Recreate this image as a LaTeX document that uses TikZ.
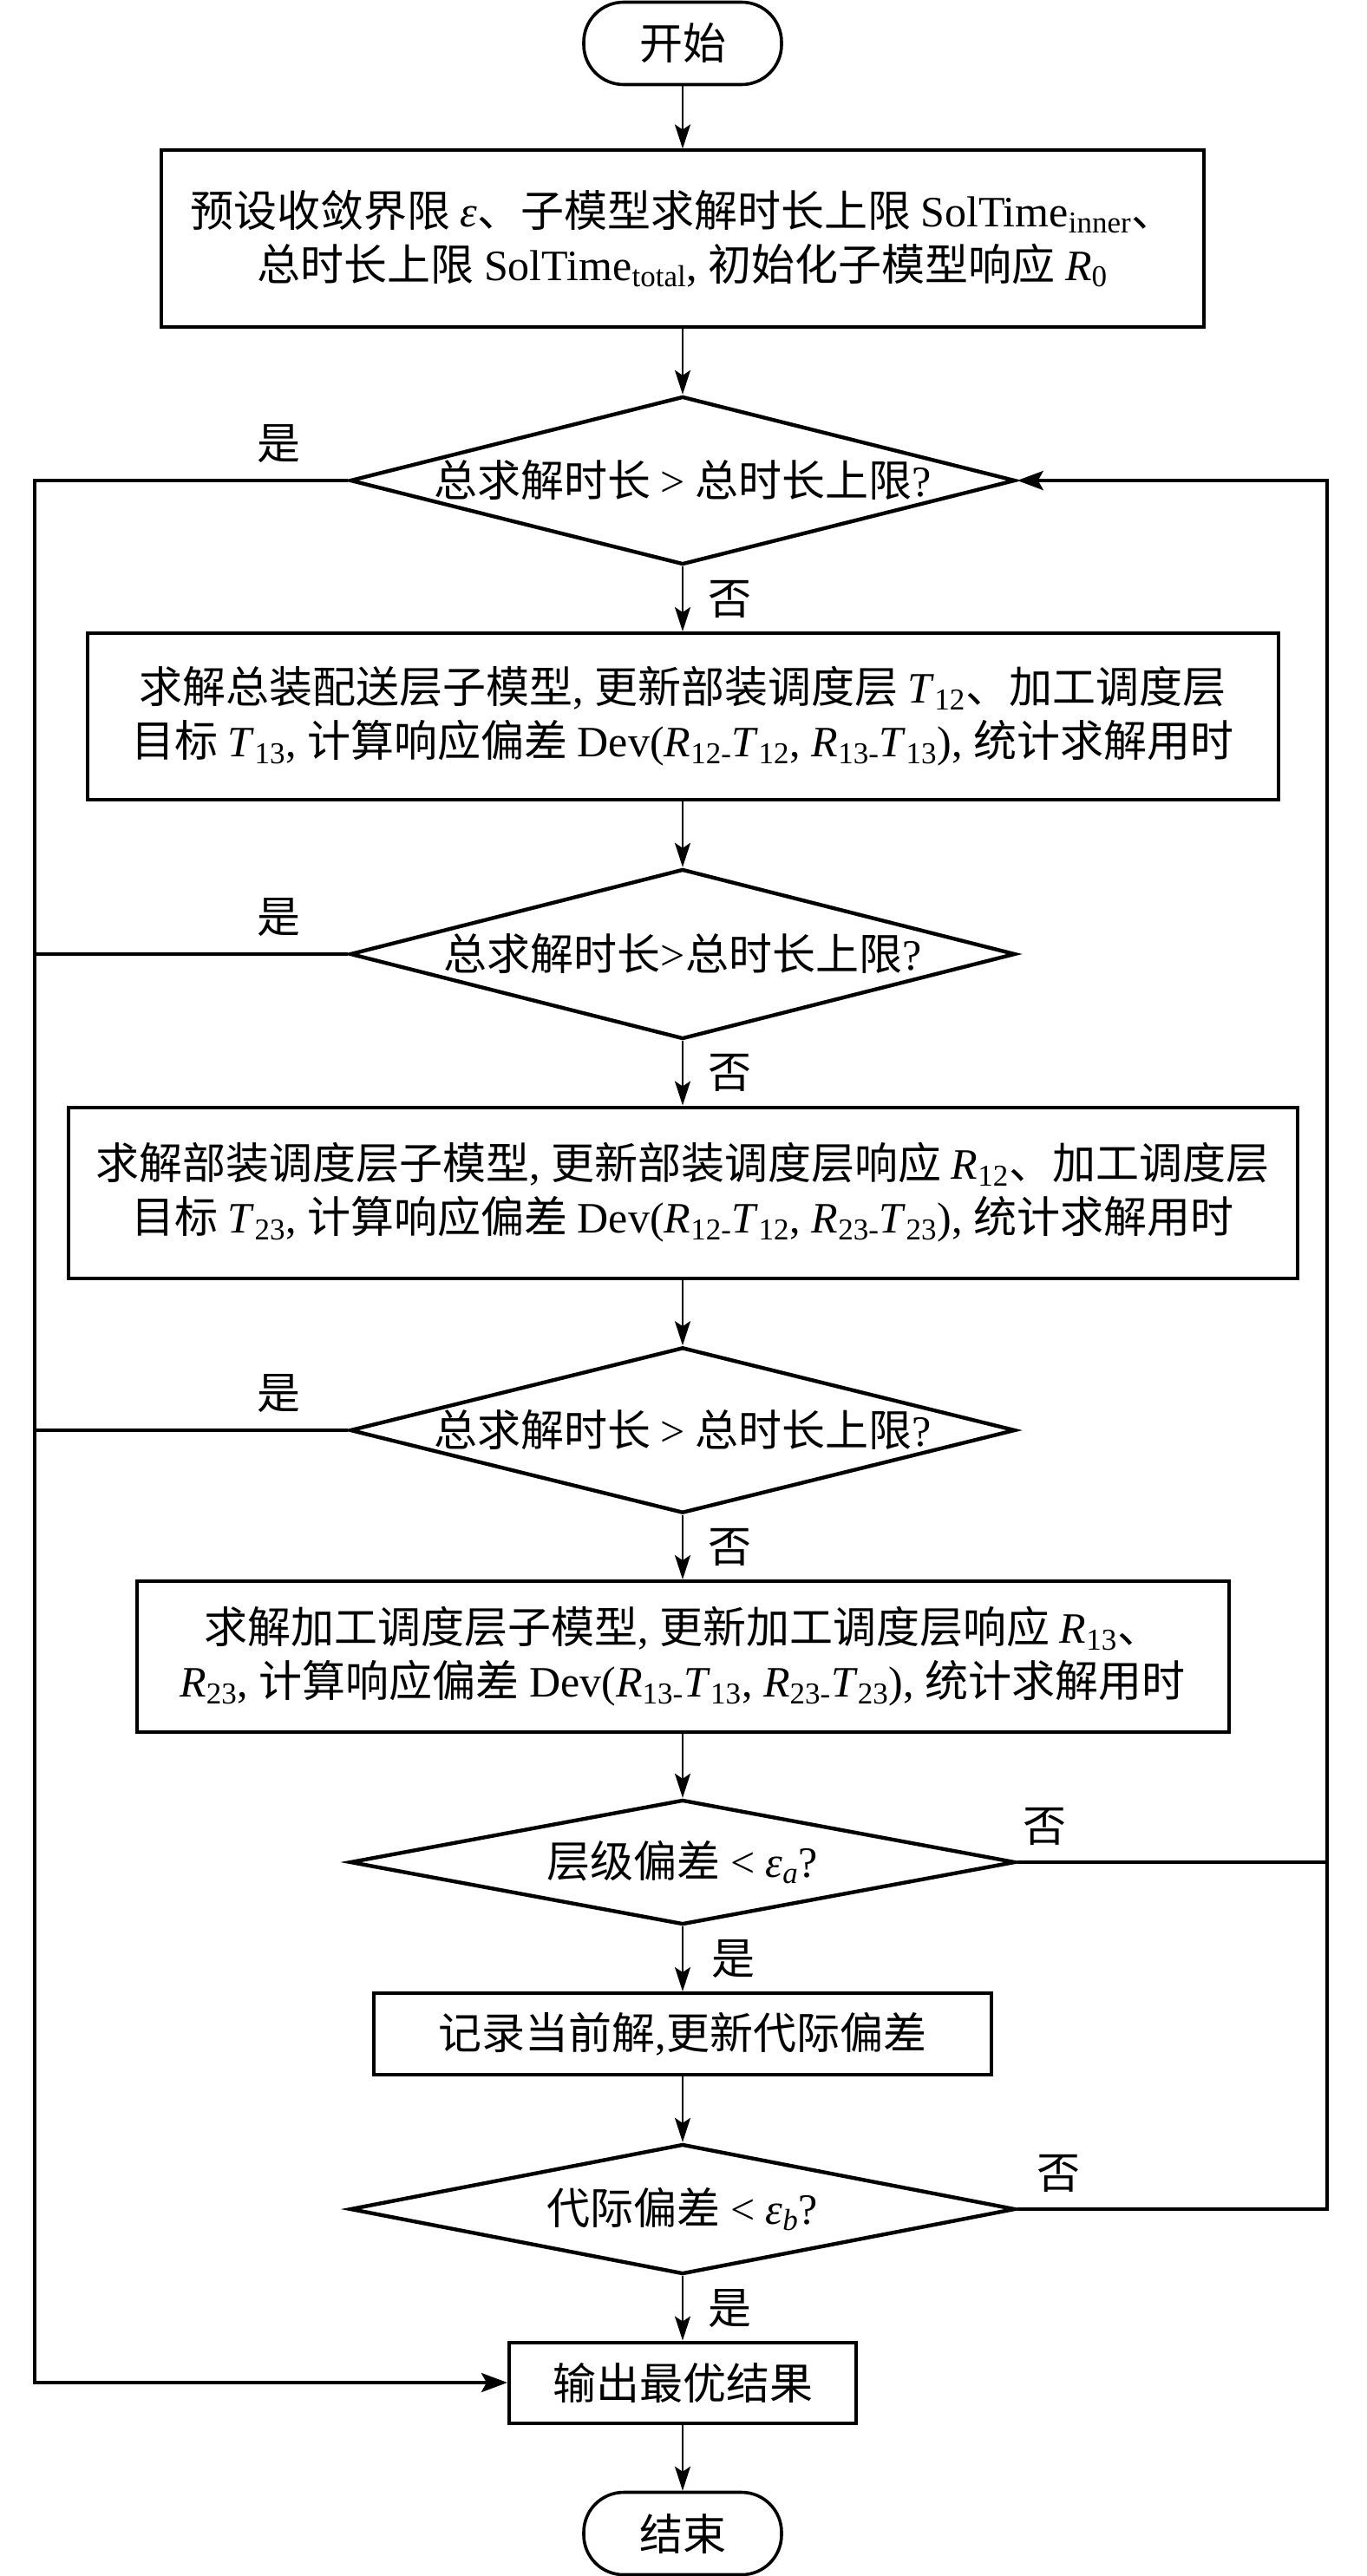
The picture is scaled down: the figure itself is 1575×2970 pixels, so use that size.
\documentclass[tikz,border=0pt]{standalone}
\usepackage{fontspec}
\setmainfont{Noto Sans CJK SC}
\newfontfamily\tnr{Liberation Serif}
\usetikzlibrary{shapes.geometric,arrows.meta}
\newcommand{\en}[1]{{\tnr #1}}
\newcommand{\vs}[2]{{\tnr\textit{#1}\textsubscript{#2}}}

\begin{document}
\begin{tikzpicture}[x=0.5pt,y=-0.5pt,
every node/.style = {font=\fontsize{25}{31}\selectfont},
term/.style = {draw,rectangle,rounded corners=23pt,line width=1.8pt,minimum width=114pt,minimum height=47.5pt,inner sep=0pt},
proc/.style = {draw,rectangle,line width=2pt,inner sep=0pt,align=center},
dec/.style = {draw,diamond,line width=2.2pt,inner sep=0pt,minimum width=383.5pt},
arr/.style = {draw,line width=1.3pt,-{Stealth[length=14pt,width=9pt,inset=3pt]}},
lp/.style = {draw,line width=2pt},
lparr/.style = {lp,-{Stealth[length=15pt,width=11pt,inset=3pt]}},
lbl/.style = {inner sep=0pt}
]
  \useasboundingbox (0,0) rectangle (1575,2970);

  \node[term] (st) at (787,50) {开始};
  \node[proc,minimum width=601pt,minimum height=101.5pt] (b1) at (787,275)
    {预设收敛界限 \en{\textit{ε}}、子模型求解时长上限 \en{SolTime\textsubscript{inner}}、\\
     总时长上限 \en{SolTime\textsubscript{total}, }初始化子模型响应 \vs{R}{0}};
  \node[dec,aspect=3.95,minimum height=97pt] (d1) at (787,554) {总求解时长 \en{>} 总时长上限\en{?}};
  \node[proc,minimum width=686.5pt,minimum height=96pt] (b2) at (787,826)
    {求解总装配送层子模型\en{, }更新部装调度层 \vs{T}{12}、加工调度层\\
     目标 \vs{T}{13}\en{, }计算响应偏差 \en{Dev(}\vs{R}{12-}\vs{T}{12}\en{, }\vs{R}{13-}\vs{T}{13}\en{), }统计求解用时};
  \node[dec,aspect=3.95,minimum height=98pt] (d2) at (787,1100) {总求解时长\en{>}总时长上限\en{?}};
  \node[proc,minimum width=708.5pt,minimum height=98.5pt] (b3) at (787,1375)
    {求解部装调度层子模型\en{, }更新部装调度层响应 \vs{R}{12}、加工调度层\\
     目标 \vs{T}{23}\en{, }计算响应偏差 \en{Dev(}\vs{R}{12-}\vs{T}{12}\en{, }\vs{R}{23-}\vs{T}{23}\en{), }统计求解用时};
  \node[dec,aspect=3.95,minimum height=95pt] (d3) at (787,1649) {总求解时长 \en{>} 总时长上限\en{?}};
  \node[proc,minimum width=629.5pt,minimum height=87pt] (b4) at (787,1910)
    {求解加工调度层子模型\en{, }更新加工调度层响应 \vs{R}{13}、\\
     \vs{R}{23}\en{, }计算响应偏差 \en{Dev(}\vs{R}{13-}\vs{T}{13}\en{, }\vs{R}{23-}\vs{T}{23}\en{), }统计求解用时};
  \node[dec,aspect=5.2,minimum height=72pt] (d4) at (787,2147) {层级偏差 \en{< \textit{ε}\textsubscript{\textit{a}}?}};
  \node[proc,minimum width=356pt,minimum height=47pt] (b5) at (787,2345) {记录当前解\en{,}更新代际偏差};
  \node[dec,aspect=5.2,minimum height=75pt] (d5) at (787,2547) {代际偏差 \en{< \textit{ε}\textsubscript{\textit{b}}?}};
  \node[proc,minimum width=200pt,minimum height=46.5pt] (b6) at (787,2747) {输出最优结果};
  \node[term] (fin) at (787,2921) {结束};

  \coordinate (lx) at (40,0);
  \coordinate (rx) at (1530,0);

  \path[arr] (st) -- (b1);
  \path[arr] (b1) -- (d1);
  \path[arr] (d1) -- node[lbl,right=14pt] {否} (b2);
  \path[arr] (b2) -- (d2);
  \path[arr] (d2) -- node[lbl,right=14pt] {否} (b3);
  \path[arr] (b3) -- (d3);
  \path[arr] (d3) -- node[lbl,right=14pt] {否} (b4);
  \path[arr] (b4) -- (d4);
  \path[arr] (d4) -- node[lbl,right=16pt] {是} (b5);
  \path[arr] (b5) -- (d5);
  \path[arr] (d5) -- node[lbl,right=14pt] {是} (b6);
  \path[arr] (b6) -- (fin);

  \path[lparr] (d1.west) -- node[lbl,pos=.22,above=9pt] {是} (d1.west -| lx) |- (b6);
  \path[lp] (d2.west) -- node[lbl,pos=.22,above=9pt] {是} (d2.west -| lx);
  \path[lp] (d3.west) -- node[lbl,pos=.22,above=9pt] {是} (d3.west -| lx);

  \path[lp] (d4.east) -- node[lbl,pos=.09,above=9pt] {否} (d4.east -| rx);
  \path[lparr] (d5.east) -- node[lbl,pos=.135,above=9pt] {否} (d5.east -| rx) |- (d1.east);

\end{tikzpicture}
\end{document}
